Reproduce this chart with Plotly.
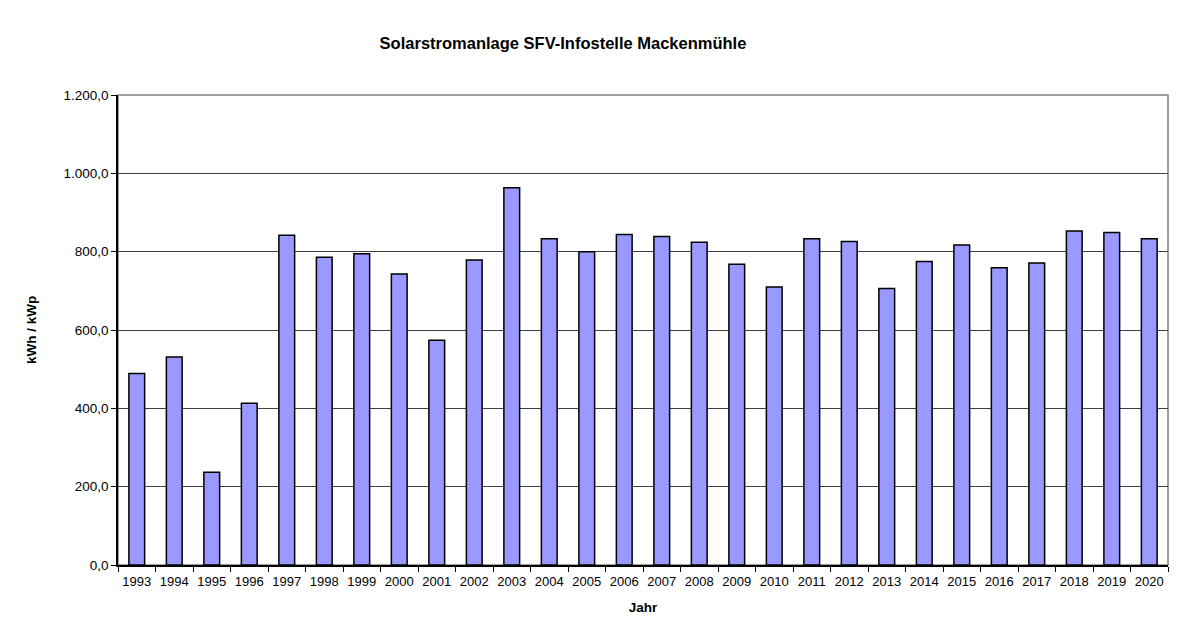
import plotly.graph_objects as go

# Jahreserträge
jahre = [str(j) for j in range(1993, 2021)]
ertrag = [489, 531, 237, 413, 842, 786, 795, 743, 574, 779,
          963, 833, 800, 844, 839, 824, 768, 710, 833, 826,
          706, 775, 817, 759, 771, 853, 849, 833]
y_ticks = [0, 200, 400, 600, 800, 1000, 1200]

# Seite hat 8px Rand -> Ränder entsprechend verschoben
off = 8

fig = go.Figure()
fig.add_trace(go.Bar(
    x=jahre, y=ertrag,
    marker=dict(color="#9999FF", line=dict(color="#000000", width=1.5)),
    hovertemplate="%{x}: %{y:,.1f}<extra></extra>",
))

fig.update_layout(
    width=1200, height=638,
    paper_bgcolor="white", plot_bgcolor="white",
    separators=",.",
    font=dict(family="Liberation Sans, Arial, sans-serif", size=13.5, color="#000000"),
    title=dict(text="<b>Solarstromanlage SFV-Infostelle Mackenmühle</b>",
               x=(563 - off) / 1200, xanchor="center", y=1 - (43 - off) / 638, yanchor="middle",
               font=dict(size=16.5)),
    margin=dict(l=118 - off, r=32 + off, t=95 - off, b=73 + off),
    bargap=0.58,
    showlegend=False,
    shapes=[dict(type="rect", xref="paper", yref="paper", x0=0, x1=1, y0=0, y1=1,
                 line=dict(color="#808080", width=1.5), layer="below")],
)

fig.update_xaxes(
    type="category", tickson="boundaries", tickangle=0,
    ticks="outside", ticklen=5, tickcolor="#000000",
    ticklabelstandoff=4,
    showline=True, linecolor="#000000", linewidth=1.5,
    showgrid=False,
    title=dict(text="<b>Jahr</b>", font=dict(size=13.5), standoff=14),
    tickfont=dict(size=13),
)
fig.update_yaxes(
    range=[0, 1200], tickvals=y_ticks, tickformat=",.1f",
    ticks="outside", ticklen=5, tickcolor="#000000",
    showline=True, linecolor="#000000", linewidth=1.5,
    showgrid=True, gridcolor="#404040", gridwidth=1,
    zeroline=False,
    title=dict(text="<b>kWh / kWp</b>", font=dict(size=13.5), standoff=24),
    tickfont=dict(size=13.5),
)

fig.write_html("out.html")
